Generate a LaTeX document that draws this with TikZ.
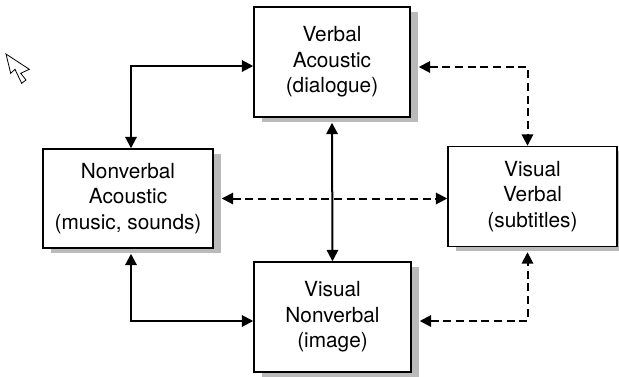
\documentclass[tikz,border=0pt]{standalone}
\usepackage{fontspec}
\setmainfont{TeX Gyre Heros}
\usetikzlibrary{arrows.meta,calc}

\tikzset{every picture/.style={line width=0.75pt}}
\tikzset{
  mode/.style={draw,fill=white,line width=1.1pt,align=center,inner sep=0pt,
    font=\fontsize{15.6}{19}\selectfont},
  link/.style={line width=1.5pt,{Triangle[length=8.5pt,width=8.5pt]}-{Triangle[length=8.5pt,width=8.5pt]}},
  dlink/.style={link,dash pattern={on 6pt off 3.5pt}},
  boxshadow/.style={fill=black!27,draw=none}
}

\begin{document}
\begin{tikzpicture}[x=0.75pt,y=0.75pt,yscale=-1,xscale=1]
\useasboundingbox (0,0) rectangle (619,376);

%Shadows
\fill [boxshadow] (262,12) rectangle (418,122);
\fill [boxshadow] (51,154) rectangle (221,253);
\fill [boxshadow] (456,151) rectangle (625,251);
\fill [boxshadow] (262,267) rectangle (419,377);

% Text Node
\node [mode,minimum width=117pt,minimum height=82.5pt] (verbacou) at (332,62) {Verbal\\Acoustic\\(dialogue)};
% Text Node
\node [mode,minimum width=127.5pt,minimum height=74.25pt] (nonacou) at (128,198.5) {Nonverbal\\Acoustic\\(music, sounds)};
% Text Node
\node [mode,minimum width=126.75pt,minimum height=75pt] (visverb) at (532.5,196.5) {Visual\\Verbal\\(subtitles)};
% Text Node
\node [mode,minimum width=117.75pt,minimum height=82.5pt] (visnon) at (332.5,317) {Visual\\Nonverbal\\(image)};

%Straight Lines
\draw [link] ($(nonacou.north)+(3,0)$) |- ($(verbacou.west)+(0,4)$);
%Straight Lines
\draw [link] ($(nonacou.south)+(3,5)$) |- ($(visnon.west)+(0,4)$);
%Straight Lines
\draw [link] ($(verbacou.south)+(0,5)$) -- (visnon.north);
%Straight Lines
\draw [dlink] ($(nonacou.east)+(8,0)$) -- (nonacou.east -| visverb.west);
%Straight Lines
\draw [dlink] ($(verbacou.east)+(8,5)$) -| ($(visverb.north)+(-5,0)$);
%Straight Lines
\draw [dlink] ($(visnon.east)+(8,4)$) -| ($(visverb.south)+(-5,5)$);

%Shape: Pointer
\draw [fill=white,line width=0.6pt,line join=miter] (6,54) -- (10.7,73.3) -- (15,69.3) -- (21.7,83.3) -- (26,80) -- (20.7,73.3) -- (29.3,69.3) -- cycle;

\end{tikzpicture}
\end{document}
